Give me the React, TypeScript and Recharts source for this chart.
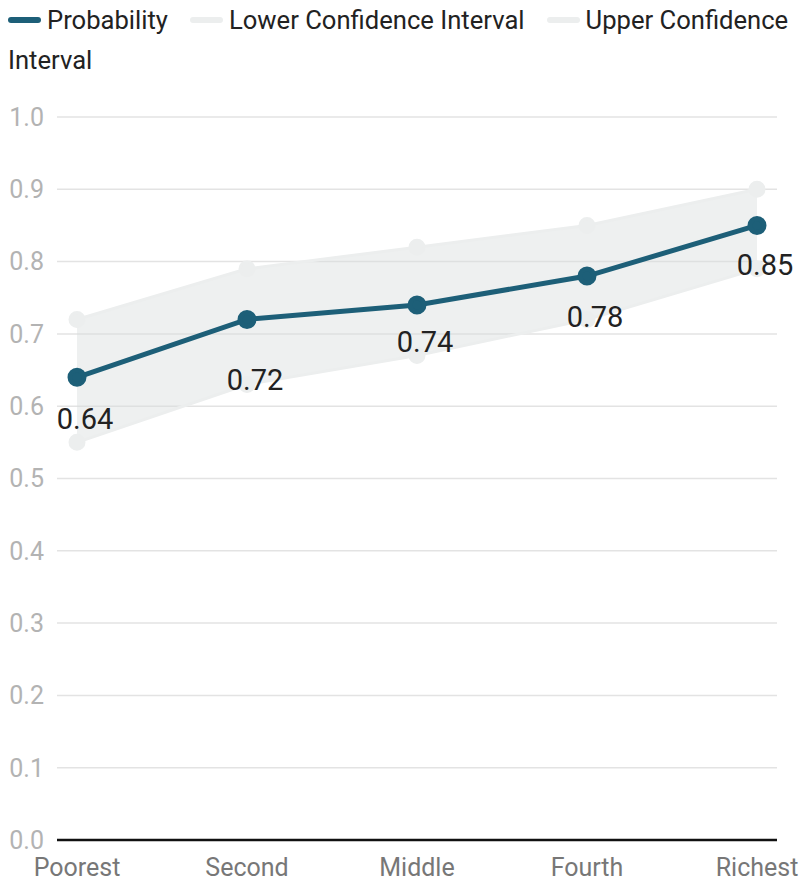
import React from "react"
import { ComposedChart, Line, Area, XAxis, YAxis, CartesianGrid, Legend } from "recharts"

const quintiles = ["Poorest", "Second", "Middle", "Fourth", "Richest"]
const probability = [0.64, 0.72, 0.74, 0.78, 0.85]
const lowerCI = [0.55, 0.63, 0.67, 0.72, 0.79]
const upperCI = [0.72, 0.79, 0.82, 0.85, 0.9]
const yTicks = [0, 0.1, 0.2, 0.3, 0.4, 0.5, 0.6, 0.7, 0.8, 0.9, 1.0]

const TEAL = "#1d5f78"
const CI_GREY = "#eceeee"
const FONT = "Roboto, sans-serif"

// the source nudged the "Second" label further down to clear the line
const labelDrop = [42, 61, 37, 41, 40]

const chartData = quintiles.map((q, i) => ({
  quintile: q,
  probability: probability[i],
  lower: lowerCI[i],
  upper: upperCI[i],
  band: [lowerCI[i], upperCI[i]],
}))

const legendOrder = ["Probability", "Lower Confidence Interval", "Upper Confidence Interval"]

// legend wraps like plain text; each word is its own box so wrapped items stay tidy
const LegendContent = (props: any) => {
  const items = (props.payload || [])
    .filter((it: any) => legendOrder.includes(it.value))
    .sort((a: any, b: any) => legendOrder.indexOf(a.value) - legendOrder.indexOf(b.value))
  return (
    <div
      style={{
        width: 808,
        height: 117,
        boxSizing: "border-box",
        paddingLeft: 8,
        fontFamily: FONT,
        fontSize: 25.6,
        lineHeight: "40px",
        color: "#222",
        textAlign: "left",
      }}
    >
      {items.map((it: any, i: number) => (
        <React.Fragment key={it.value}>
          <span
            style={{
              display: "inline-block",
              width: 33,
              height: 6,
              borderRadius: 3,
              background: it.color,
              verticalAlign: "middle",
              marginLeft: i > 0 ? 22 : 0,
              marginRight: 6,
              position: "relative",
              top: -2,
            }}
          />
          {String(it.value)
            .split(" ")
            .map((w: string, j: number, arr: string[]) => (
              <React.Fragment key={j}>
                <span style={{ display: "inline-block" }}>{w}</span>
                {j < arr.length - 1 ? " " : null}
              </React.Fragment>
            ))}
        </React.Fragment>
      ))}
    </div>
  )
}

const ValueLabel = (props: any) => {
  const { x, y, value, index } = props
  return (
    <text
      x={x + 8}
      y={y + (labelDrop[index] ?? 42)}
      textAnchor="middle"
      dominantBaseline="central"
      fill="#222"
      fontSize={29}
      fontFamily={FONT}
    >
      {Number(value).toFixed(2)}
    </text>
  )
}

export default function App() {
  return (
    <div style={{ position: "absolute", left: 0, top: 0, width: 804, height: 884, overflow: "hidden", background: "#fff" }}>
      <ComposedChart width={804} height={884} data={chartData} margin={{ top: 0, right: 27, left: 0, bottom: 0 }}>
        <CartesianGrid vertical={false} stroke="#e3e3e3" strokeWidth={1.5} />
        <XAxis
          dataKey="quintile"
          scale="point"
          padding={{ left: 20, right: 20 }}
          height={44}
          tickSize={0}
          tickMargin={18}
          axisLine={{ stroke: "#111", strokeWidth: 2.5 }}
          tick={{ fill: "#777", fontSize: 25, fontFamily: FONT }}
          interval={0}
        />
        <YAxis
          domain={[0, 1]}
          ticks={yTicks}
          width={57}
          tickSize={0}
          tickMargin={13}
          axisLine={false}
          tickFormatter={(v: number) => v.toFixed(1)}
          tick={{ fill: "#b3b3b3", fontSize: 25, fontFamily: FONT }}
          interval={0}
        />
        <Legend verticalAlign="top" align="left" wrapperStyle={{ left: 0, top: 0 }} content={<LegendContent />} />
        <Area
          dataKey="band"
          type="linear"
          fill="#d6dbdb"
          fillOpacity={0.42}
          stroke="none"
          legendType="none"
          isAnimationActive={false}
        />
        <Line
          dataKey="lower"
          name="Lower Confidence Interval"
          type="linear"
          stroke={CI_GREY}
          strokeWidth={3}
          dot={{ r: 7, fill: CI_GREY, stroke: CI_GREY }}
          isAnimationActive={false}
        />
        <Line
          dataKey="upper"
          name="Upper Confidence Interval"
          type="linear"
          stroke={CI_GREY}
          strokeWidth={3}
          dot={{ r: 7, fill: CI_GREY, stroke: CI_GREY }}
          isAnimationActive={false}
        />
        <Line
          dataKey="probability"
          name="Probability"
          type="linear"
          stroke={TEAL}
          strokeWidth={5}
          dot={{ r: 7, fill: TEAL, stroke: TEAL }}
          label={<ValueLabel />}
          isAnimationActive={false}
        />
      </ComposedChart>
    </div>
  )
}
